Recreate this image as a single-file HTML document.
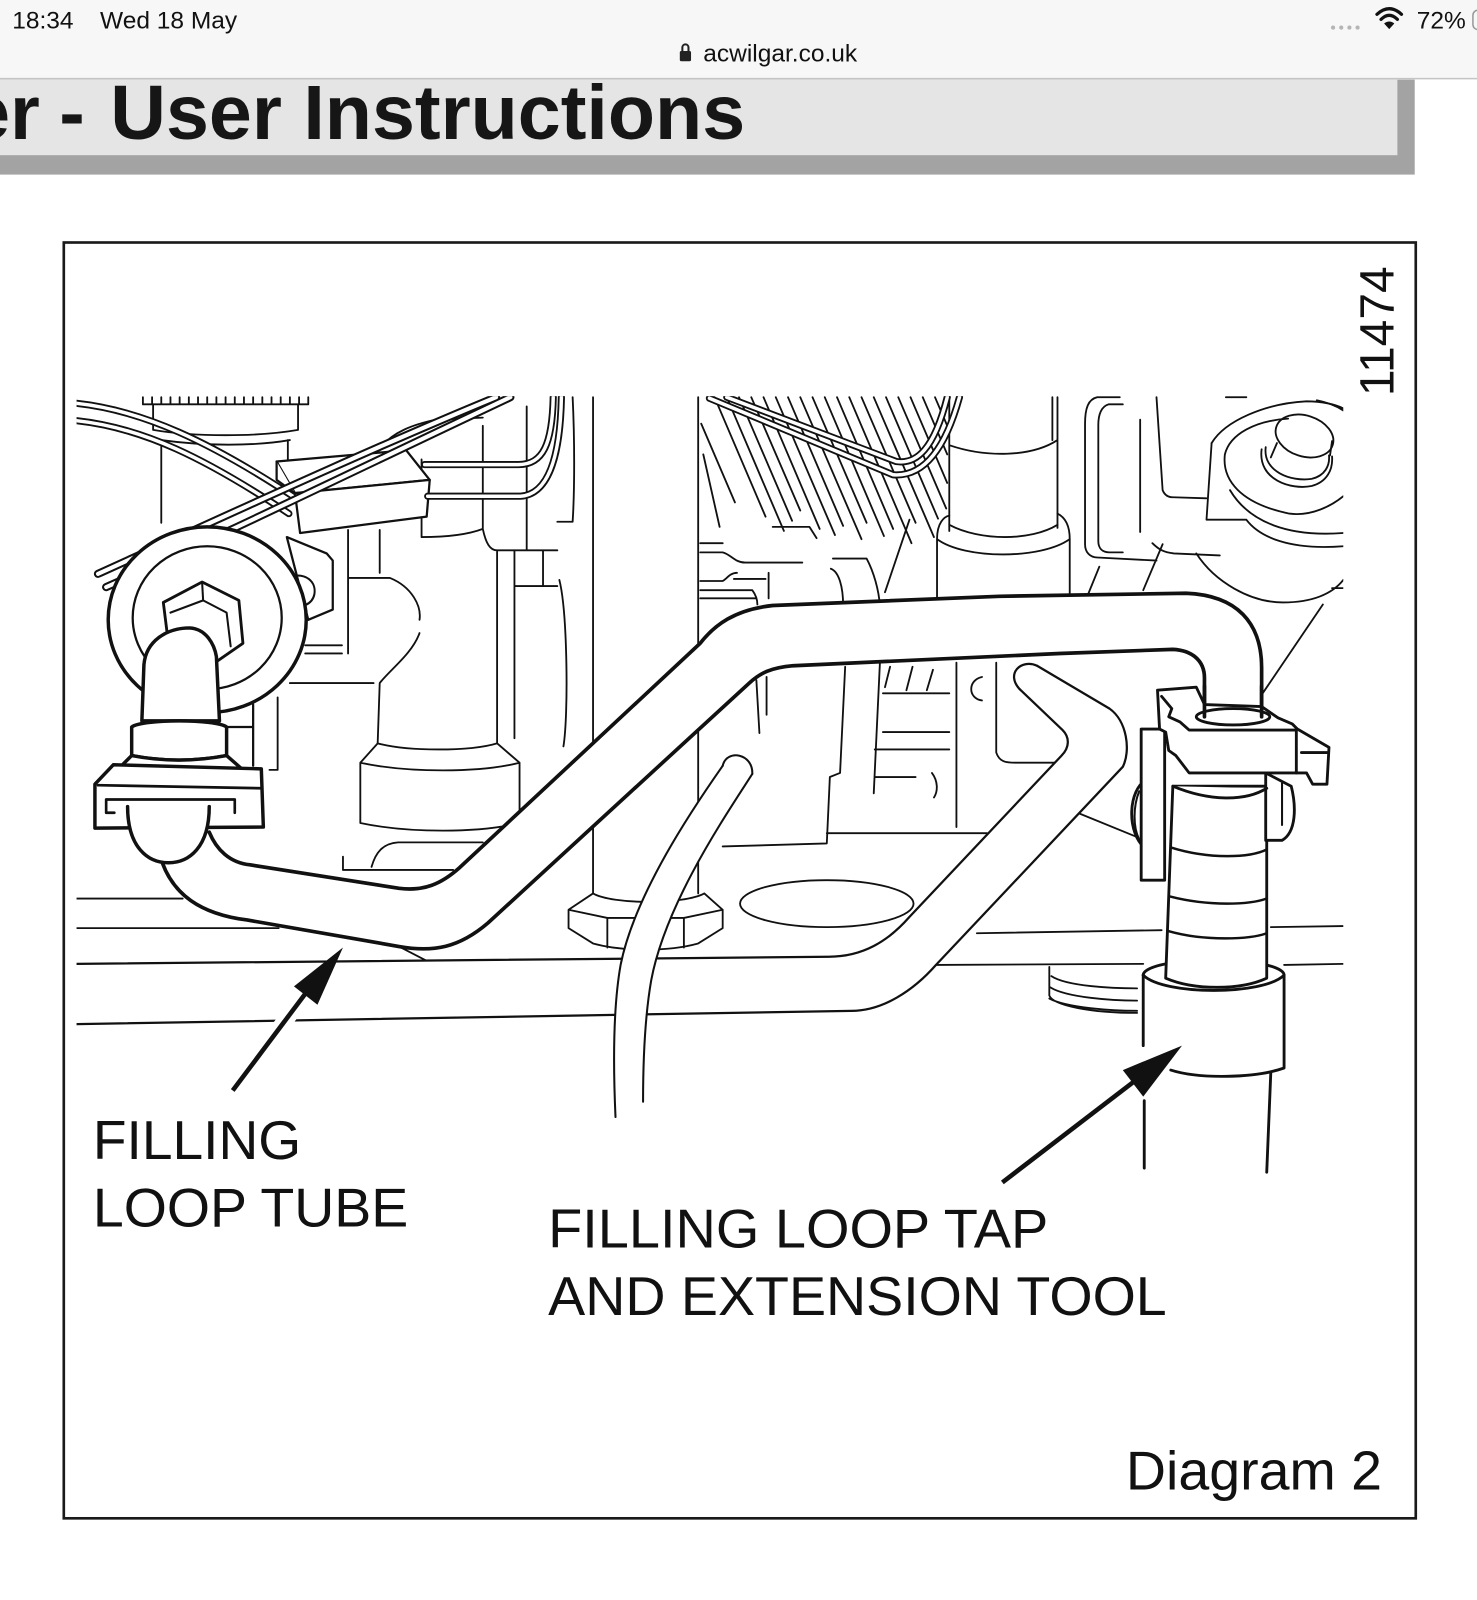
<!DOCTYPE html>
<html><head><meta charset="utf-8"><style>
html,body{margin:0;padding:0;background:#fff;overflow:hidden;}
svg{display:block;}
</style></head><body>
<svg xmlns="http://www.w3.org/2000/svg" width="1477" height="1600" viewBox="0 0 1447 1567" preserveAspectRatio="none">
<defs><clipPath id="c"><rect x="75" y="388" width="1241" height="790"/></clipPath></defs>
<rect width="1447" height="1567" fill="#fff"/>

<!-- status bar -->
<rect x="0" y="0" width="1447" height="77" fill="#f7f7f7"/>
<line x1="0" y1="77" x2="1447" y2="77" stroke="#c4c4c4" stroke-width="1.5"/>
<g font-family="Liberation Sans, sans-serif" fill="#111">
<text x="12" y="28" font-size="24">18:34</text>
<text x="98" y="28" font-size="24">Wed 18 May</text>
<text x="689" y="60" font-size="24">acwilgar.co.uk</text>
<text x="1388" y="28" font-size="24">72%</text>
</g>
<rect x="666" y="50" width="11" height="10" rx="1.5" fill="#222"/>
<path d="M668.5,50 V46.5 A3,3 0 0 1 674.5,46.5 V50" fill="none" stroke="#222" stroke-width="2"/>
<g fill="#b5b5b5"><circle cx="1306" cy="27" r="2"/><circle cx="1314" cy="27" r="2"/><circle cx="1322" cy="27" r="2"/><circle cx="1330" cy="27" r="2"/></g>
<g fill="none" stroke="#111" stroke-width="3.2" stroke-linecap="round">
<path d="M1349,14 Q1361,3 1373,14"/><path d="M1353,19 Q1361,11 1369,19"/>
</g>
<path d="M1356,23 L1361,28.5 L1366,23 Q1361,19 1356,23 Z" fill="#111"/>
<rect x="1443" y="10" width="30" height="19" rx="5" fill="none" stroke="#999" stroke-width="1.5"/>

<!-- banner -->
<rect x="0" y="78" width="1386" height="93" fill="#a3a3a3"/>
<rect x="0" y="78" width="1369" height="74" fill="#e5e5e5"/>
<g font-family="Liberation Sans, sans-serif" font-weight="bold" font-size="75" fill="#161616">
<text x="39" y="136" text-anchor="end">er</text>
<text x="58" y="136">-</text>
<text x="108" y="136" textLength="622" lengthAdjust="spacingAndGlyphs">User Instructions</text>
</g>

<!-- frame -->
<rect x="62.5" y="237.5" width="1324.5" height="1249.5" fill="none" stroke="#1a1a1a" stroke-width="2.6"/>
<text transform="translate(1365,388) rotate(-90)" font-family="Liberation Sans, sans-serif" font-size="47" fill="#111">11474</text>

<g clip-path="url(#c)" fill="none" stroke="#111" stroke-linecap="round" stroke-linejoin="round">
<!-- background thin lines -->
<g stroke-width="1.8">
<path d="M140,389 V396 H302 V389 M149,389V396 M158,389V396 M167,389V396 M176,389V396 M185,389V396 M194,389V396 M203,389V396 M212,389V396 M221,389V396 M230,389V396 M239,389V396 M248,389V396 M257,389V396 M266,389V396 M275,389V396 M284,389V396 M293,389V396"/>
<path d="M150,396 V421 M292,396 V421 M150,421 C190,428 252,428 292,421 M158,431 C200,437 250,437 284,431 M158,431 V512 M282,431 V455"/>
<path d="M341,519 V640 M372,519 V561 M341,566 H382 C404,575 413,594 411,607 M411,620 C404,640 382,656 372,669 L370,728"/>
<path d="M284,669 H366 M299,632 H335 M299,640 H335 M272,683 V754 M264,754 H272"/>
<path d="M370,728 C400,736 460,736 487,728 M370,728 L353,747 V806 C400,816 470,816 509,806 V747 L487,728 M353,747 C400,757 470,757 509,747"/>
<path d="M487,539 V728 M504,539 V723 M473,417 V518 C476,532 480,539 487,539 H546 M413,450 V526 C440,526 460,523 473,518 M516,398 V539 M532,539 V574 M504,574 H546"/>
<path d="M548,568 C556,600 557,700 552,731 M561,389 C563,430 563,480 561,511 M546,511 H561"/>
<path d="M581,389 V875 M684,389 V875"/>
<path d="M581,875 L557,891 V909 L581,924 C610,932 655,932 684,924 L708,909 V891 L690,875 M581,875 C600,886 670,886 690,875 M557,891 L595,899 H670 L708,891 M595,899 V928 M670,899 V928"/>
<ellipse cx="810" cy="885" rx="85" ry="23"/>
<path d="M75,880 H179 M75,909 H273 M336,839 V852 H444 M364,849 C368,835 375,826 390,825 H473 M391,927 L418,941"/>
<path d="M687,415 L720,492 M689,445 L705,516 M700,389 L750,506 M712,389 L768,520 M724,389 L776,510 M736,389 L784,500 M748,389 L803,518 M760,389 L818,524 M772,389 L826,515 M784,389 L844,528 M796,389 L849,512 M808,389 L866,525 M820,389 L875,518 M832,389 L893,532 M844,389 L897,512 M856,389 L915,526 M868,389 L919,508 M880,389 L927,498 M892,389 L928,473 M904,389 L928,445 M916,389 L928,417"/>
<path d="M686,532 H708 M686,541 H708 C716,543 720,551 730,551 H786 M686,569 H708 C712,567 715,561 722,561 M719,567 H750 M753,561 V586 M686,578 H737 C740,582 742,587 742,592 M686,586 H740 M757,516 H793 L800,527 M816,547 H849 C856,560 861,578 862,593 M814,557 C822,560 826,575 826,593 M891,509 L867,580"/>
<path d="M741,666 L744,718 M751,663 V700 M828,653 L823,757 L813,761 L810,826 M862,650 L856,777 M865,679 H930 M865,717 H930 M857,734 H930 M857,761 H897 M937,649 V810 M962,663 C948,666 948,684 962,686 M976,649 V737 C979,746 985,747 995,747 H1038 M708,829 L810,826 M810,816 H967 M872,653 L867,673 M894,653 L888,676 M914,656 L908,676 M913,757 C919,765 919,775 915,781 M1058,797 L1117,821"/>
<path d="M930,389 V520 M1031,389 V431 M1036,389 V517 M930,436 C965,448 1010,448 1036,431"/>
<path d="M918,528 C918,512 925,506 930,505 M1036,503 C1044,507 1048,515 1048,528 M918,528 C945,548 1020,548 1048,528 M930,514 C960,530 1010,530 1036,514 M918,528 V590 M1048,528 V590"/>
<path d="M1097,389 H1075 C1066,391 1063,400 1063,415 V533 C1063,541 1068,546 1075,546 L1133,549 M1100,396 H1086 C1079,398 1076,406 1076,416 V530 C1076,537 1080,541 1087,541 H1100 M1117,411 V521 M1133,389 L1139,480 C1141,485 1145,487 1149,487 L1182,488 M1129,532 C1135,538 1140,541 1150,542 L1195,544 M1077,555 L1066,582 M1139,533 L1120,578 M1201,389 H1221"/>
<!-- knob -->
<path d="M1187,434 C1200,412 1240,395 1280,393 C1295,393 1308,396 1316,400"/>
<path d="M1187,434 L1182,509 H1221 C1234,526 1263,539 1316,535"/>
<path d="M1262,410 C1230,412 1205,425 1200,445 C1197,470 1215,493 1263,503 C1285,506 1305,495 1316,486"/>
<path d="M1205,480 C1224,512 1263,526 1316,522"/>
<path d="M1236,440 C1232,470 1265,480 1285,476 C1300,472 1306,460 1305,447"/>
<path d="M1240,438 C1237,462 1265,472 1285,469 C1298,466 1303,456 1302,446"/>
<path d="M1251,434 L1245,448 M1305,432 L1303,446"/>
<ellipse cx="1278" cy="427" rx="29" ry="20" transform="rotate(18 1278 427)"/>
<path d="M1172,542 C1190,570 1225,590 1257,590 C1285,590 1305,582 1316,568 M1305,576 H1316 M1296,592 L1237,679 M1290,392 C1300,394 1310,398 1316,402"/>
<path d="M957,914 L1138,911 M1245,908 L1316,907 M917,945 L1120,944 M1258,945 L1316,944"/>
<path d="M1028,947 V975 C1032,985 1070,992 1114,992 M1030,956 C1045,966 1090,968 1114,968 M1029,967 C1045,977 1090,980 1114,980 M1028,978 C1045,987 1090,990 1114,990"/>
<path d="M372,439 C385,423 404,416 427,411 L473,409"/>
</g>

<!-- wires group A -->
<g stroke="#111" stroke-width="7"><path d="M75,395 C140,402 205,432 290,488"/><path d="M75,412 C140,419 200,448 283,503"/></g>
<g stroke="#fff" stroke-width="3.4"><path d="M75,395 C140,402 205,432 290,488"/><path d="M75,412 C140,419 200,448 283,503"/></g>
<!-- connector -->
<g fill="#fff" stroke-width="2.2">
<path d="M271,452 L398,441 L421,470 L289,483 Z"/>
<path d="M289,483 L421,470 L418,506 L294,522 Z"/>
<path d="M271,452 L271,470 L289,483"/>
</g>
<!-- wires B, C, D -->
<g stroke="#111" stroke-width="8"><path d="M96,562 C200,515 350,445 486,389"/><path d="M104,575 C210,528 360,455 500,389"/></g>
<g stroke="#fff" stroke-width="4"><path d="M96,562 C200,515 350,445 486,389"/><path d="M104,575 C210,528 360,455 500,389"/></g>
<g stroke="#111" stroke-width="7"><path d="M416,455 H508 C532,455 541,435 542,389"/><path d="M419,486 H510 C540,484 549,440 550,389"/><path d="M695,390 L875,465 C901,467 924,447 940,389"/><path d="M712,389 L878,452 C898,455 915,440 928,389"/></g>
<g stroke="#fff" stroke-width="3.4"><path d="M416,455 H508 C532,455 541,435 542,389"/><path d="M419,486 H510 C540,484 549,440 550,389"/><path d="M695,390 L875,465 C901,467 924,447 940,389"/><path d="M712,389 L878,452 C898,455 915,440 928,389"/></g>

<!-- lower tube -->
<path fill="#fff" stroke="none" d="M1016,652 L1087,694 C1104,706 1108,735 1100,751 L917,945 C895,970 865,990 834,990 L75,1003 L75,944 L812,937 C845,937 870,922 891,898 L1040,740 C1048,732 1048,722 1041,715 L999,675 C985,660 1000,645 1016,652 Z"/>
<g stroke-width="2.2">
<path d="M999,675 L1041,715 C1048,722 1048,732 1040,740 L891,898 C870,922 845,937 812,937 L75,944"/>
<path d="M1016,652 L1087,694 C1104,706 1108,735 1100,751 L917,945 C895,970 865,990 834,990 L75,1003"/>
<path d="M999,675 C985,660 1000,645 1016,652"/>
</g>

<!-- thin hose -->
<path fill="#fff" stroke="none" d="M708,750 C680,790 622,875 608,945 C600,990 601,1050 603,1094 L630,1079 C630,1045 631,1000 638,960 C652,885 710,800 737,758 C738,738 712,733 708,750 Z"/>
<g stroke-width="2">
<path d="M708,750 C680,790 622,875 608,945 C600,990 601,1050 603,1094"/>
<path d="M737,758 C710,800 652,885 638,960 C631,1000 630,1045 630,1079"/>
<path d="M708,750 C712,733 738,738 737,758"/>
</g>

<!-- upper filling loop tube -->
<path fill="#fff" stroke="none" d="M205,815 C212,832 225,845 245,847 L391,870 C415,873 432,866 450,850 L686,630 C700,612 720,597 757,593 L979,584 L1162,581 C1212,583 1236,610 1236,654 L1236,702 L1180,702 L1180,664 C1180,647 1168,637 1149,636 L1038,640 L777,652 C755,654 745,659 734,669 L478,904 C450,928 425,933 391,927 L242,901 C195,895 170,875 159,845 Z"/>
<g stroke-width="3.6">
<path d="M205,815 C212,832 225,845 245,847 L391,870 C415,873 432,866 450,850 L686,630 C700,612 720,597 757,593 L979,584 L1162,581 C1212,583 1236,610 1236,654 L1236,702"/>
<path d="M159,845 C170,875 195,895 242,901 L391,927 C425,933 450,928 478,904 L734,669 C745,659 755,654 777,652 L1038,640 L1149,636 C1168,637 1180,647 1180,664 L1180,702"/>
</g>

<!-- left fitting -->
<g stroke-width="3.4">
<path fill="#fff" stroke-width="2.2" d="M281,526 L320,542 L326,549 L326,597 L302,607 Z"/>
<path stroke-width="2" d="M283,565 C300,560 310,570 308,582 C306,592 295,596 285,594"/>
<ellipse cx="203" cy="607" rx="97" ry="91" fill="#fff"/>
<ellipse cx="203" cy="605" rx="73" ry="70" stroke-width="2.2"/>
<path fill="#fff" stroke-width="2.8" d="M160,590 L198,570 L234,588 L238,630 L212,648 L165,630 Z"/>
<path stroke-width="2" d="M167,600 L199,588 L222,600 L226,633 M199,588 L198,570"/>
<path fill="#fff" stroke-width="2.2" d="M222,712 L248,712 L248,690 M248,690 V750"/>
<path fill="#fff" d="M139,706 L141,651 C143,628 163,615 186,615 C202,616 210,631 212,643 L215,706 Z"/>
<path fill="#fff" d="M129,712 C140,704 211,704 222,712 L222,740 C190,746 160,746 129,740 Z"/>
<path fill="#fff" d="M129,740 L117,752 L116,765 L238,766 L238,754 L222,740 C190,746 160,746 129,740 Z"/>
<path stroke-width="2.2" d="M117,755 C150,762 210,762 238,756"/>
<path fill="#fff" d="M111,749 L256,753 L258,810 L93,811 L93,768 Z"/>
<path stroke-width="2.6" d="M96,769 L256,772 M104,783 H230 V796 M104,783 V796 H112"/>
<path fill="#fff" d="M125,790 C125,830 145,845 165,845 C185,845 205,830 205,790"/>
</g>

<!-- tap assembly -->
<g stroke-width="2.8">
<path fill="#fff" stroke="none" d="M1120,955 V1046 C1150,1058 1230,1058 1258,1046 V955 Z"/>
<ellipse cx="1189" cy="955" rx="69" ry="15" fill="#fff"/>
<path fill="#fff" d="M1149,770 L1142,958 C1170,970 1215,970 1241,958 L1241,770 Z"/>
<path stroke-width="2.4" d="M1147,830 C1185,842 1225,840 1241,832 M1146,878 C1185,888 1225,886 1241,880 M1145,912 C1180,922 1225,920 1241,914"/>
<path fill="#fff" stroke="none" d="M1120,955 C1140,975 1238,975 1258,955 V1046 C1230,1058 1150,1058 1120,1046 Z"/>
<path d="M1120,955 C1140,975 1238,975 1258,955"/>
<path d="M1120,955 V1024 M1147,1048 C1175,1057 1230,1056 1258,1046 V955 M1121,1078 V1144 M1245,1050 L1241,1148"/>
<path fill="#fff" d="M1240,757 L1265,770 C1270,790 1270,815 1256,823 L1240,823 Z"/>
<path stroke-width="2" d="M1256,767 V808"/>
<path fill="#fff" d="M1123,764 C1106,772 1102,815 1123,832 Z"/>
<path stroke-width="2" d="M1116,775 C1110,790 1110,810 1116,822"/>
<rect x="1118" y="714" width="23" height="148" fill="#fff"/>
<path fill="#fff" d="M1134,676 L1172,673 L1180,690 L1236,692 L1252,703 L1266,709 L1271,714 L1302,732 L1300,768 L1286,768 L1280,757 L1270,757 L1165,757 L1152,740 L1145,735 L1142,717 L1136,714 Z"/>
<path d="M1138,682 L1148,694 L1145,702 L1156,707 L1165,715 H1270 M1270,714 V757 M1275,737 H1300"/>
<path fill="#fff" d="M1149,770 C1185,785 1220,785 1241,772"/>
<path stroke-width="3.6" d="M1180,672 V702 M1236,672 V702"/>
<ellipse cx="1208" cy="702" rx="36" ry="8"/>
</g>
</g>

<!-- arrows -->
<g stroke-linecap="butt">
<line x1="228" y1="1068" x2="300" y2="972" stroke="#fff" stroke-width="16"/>
<line x1="228" y1="1068" x2="300" y2="972" stroke="#111" stroke-width="4.5"/>
<polygon points="336,928 288,966 311,984" fill="#111"/>
<line x1="982" y1="1158" x2="1110" y2="1060" stroke="#fff" stroke-width="16"/>
<line x1="982" y1="1158" x2="1110" y2="1060" stroke="#111" stroke-width="4.5"/>
<polygon points="1158,1024 1100,1048 1120,1074" fill="#111"/>
</g>

<!-- labels -->
<g font-family="Liberation Sans, sans-serif" font-size="54" fill="#111">
<text x="91" y="1135" textLength="204" lengthAdjust="spacingAndGlyphs">FILLING</text>
<text x="91" y="1201" textLength="309" lengthAdjust="spacingAndGlyphs">LOOP TUBE</text>
<text x="537" y="1222" textLength="490" lengthAdjust="spacingAndGlyphs">FILLING LOOP TAP</text>
<text x="537" y="1288" textLength="606" lengthAdjust="spacingAndGlyphs">AND EXTENSION TOOL</text>
<text x="1103" y="1459" textLength="251" lengthAdjust="spacingAndGlyphs">Diagram 2</text>
</g>
</svg>
</body></html>
